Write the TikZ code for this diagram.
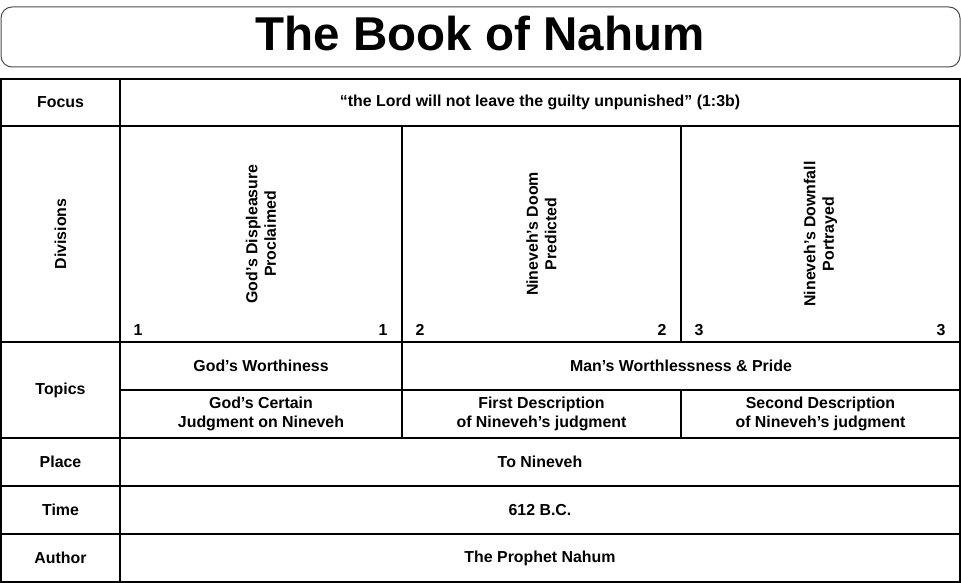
\documentclass[tikz,border=0pt]{standalone}
\usepackage{fontspec}
\setmainfont{Liberation Sans}
\begin{document}
\begin{tikzpicture}[x=1pt,y=-1pt,
  cell/.style={draw=black,line width=1.3pt,inner sep=0pt,align=center,
    font=\fontsize{15.9}{19}\selectfont\bfseries},
  txt/.style={inner sep=0pt,align=center,font=\fontsize{15.9}{18.5}\selectfont\bfseries},
  vtxt/.style={txt,rotate=90},
  num/.style={txt}]
\useasboundingbox (0,0) rectangle (961,583);
% title
\node[draw=black!70,line width=1pt,rounded corners=11pt,minimum width=959pt,minimum height=60pt,inner sep=0pt] (titlebox) at (480.5,37) {};
\node[inner sep=0pt,font=\fontsize{47.5}{50}\selectfont\bfseries] (title) at (480,34) {The Book of Nahum};
% Focus
\node[cell,minimum width=119pt,minimum height=47pt] (focusL) at (60.5,102.5) {Focus};
\node[cell,minimum width=840pt,minimum height=47pt] (focusR) at (540,102.5) {“the Lord will not leave the guilty unpunished” (1:3b)};
% Divisions
\node[cell,minimum width=119pt,minimum height=216pt] (divL) at (60.5,234) {};
\node[vtxt] (divLt) at (divL.center) {Divisions};
\node[cell,minimum width=282pt,minimum height=216pt] (div1) at (261,234) {};
\node[cell,minimum width=279pt,minimum height=216pt] (div2) at (541.5,234) {};
\node[cell,minimum width=279pt,minimum height=216pt] (div3) at (820.5,234) {};
\node[vtxt] (div1t) at (div1.center) {God’s Displeasure\\Proclaimed};
\node[vtxt] (div2t) at (div2.center) {Nineveh’s Doom\\Predicted};
\node[vtxt] (div3t) at (div3.center) {Nineveh’s Downfall\\Portrayed};
\node[num] (n1a) at (138,330) {1};
\node[num] (n1b) at (383,330) {1};
\node[num] (n2a) at (420,330) {2};
\node[num] (n2b) at (662,330) {2};
\node[num] (n3a) at (699,330) {3};
\node[num] (n3b) at (941,330) {3};
% Topics
\node[cell,minimum width=119pt,minimum height=96pt] (topL) at (60.5,390) {Topics};
\node[cell,minimum width=282pt,minimum height=48pt] (topA) at (261,366) {God’s Worthiness};
\node[cell,minimum width=558pt,minimum height=48pt] (topB) at (681,366) {Man’s Worthlessness \& Pride};
\node[cell,minimum width=282pt,minimum height=48pt] (subA) at (261,414) {God’s Certain\\Judgment on Nineveh};
\node[cell,minimum width=279pt,minimum height=48pt] (subB) at (541.5,414) {First Description\\of Nineveh’s judgment};
\node[cell,minimum width=279pt,minimum height=48pt] (subC) at (820.5,414) {Second Description\\of Nineveh’s judgment};
% Place, Time, Author
\node[cell,minimum width=119pt,minimum height=48pt] (placeL) at (60.5,462) {Place};
\node[cell,minimum width=840pt,minimum height=48pt] (placeR) at (540,462) {To Nineveh};
\node[cell,minimum width=119pt,minimum height=48pt] (timeL) at (60.5,510) {Time};
\node[cell,minimum width=840pt,minimum height=48pt] (timeR) at (540,510) {612 B.C.};
\node[cell,minimum width=119pt,minimum height=48pt] (authL) at (60.5,558) {Author};
\node[cell,minimum width=840pt,minimum height=48pt] (authR) at (540,558) {The Prophet Nahum};
\end{tikzpicture}
\end{document}
